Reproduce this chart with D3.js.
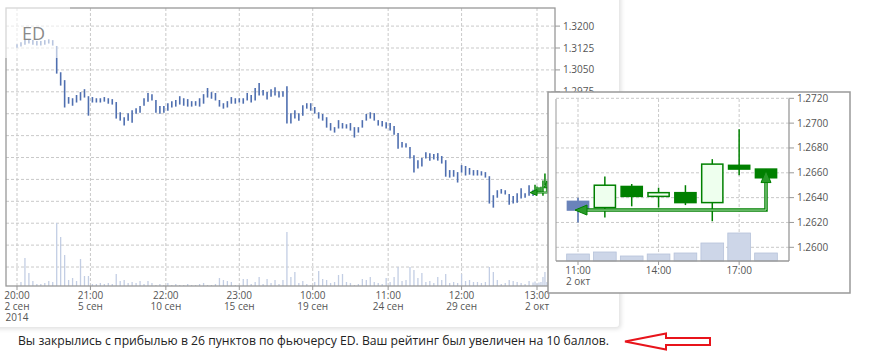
<!DOCTYPE html>
<html lang="ru">
<head>
<meta charset="UTF-8">
<title>ED</title>
<script src="https://cdn.jsdelivr.net/npm/d3@7/dist/d3.min.js"></script>
<style>
  body { margin: 0; background: #fff; }
  text { font-family: "Open Sans", sans-serif; }
</style>
</head>
<body>
<svg id="main" width="871" height="355"></svg>
<script>
// main series, one bar = 2 hours (high / low)
const hi = [1.3138,1.3145,1.3152,1.3155,1.3152,1.3149,1.3149,1.3152,1.3155,1.3152,
  1.3132,1.3042,1.3015,1.2957,1.2953,1.2964,1.2974,1.2984,1.2960,1.2957,
  1.2953,1.2953,1.2957,1.2953,1.2950,1.2940,1.2905,1.2888,1.2902,1.2912,
  1.2919,1.2926,1.2953,1.2971,1.2967,1.2947,1.2926,1.2926,1.2936,1.2943,
  1.2947,1.2960,1.2953,1.2950,1.2943,1.2943,1.2953,1.2967,1.2988,1.2974,
  1.2971,1.2947,1.2936,1.2943,1.2957,1.2953,1.2953,1.2953,1.2971,1.2964,
  1.2988,1.3005,1.2981,1.2974,1.2984,1.2991,1.2977,1.2977,1.2994,1.2902,
  1.2912,1.2902,1.2929,1.2936,1.2936,1.2923,1.2905,1.2899,1.2888,1.2868,
  1.2854,1.2878,1.2868,1.2864,1.2868,1.2854,1.2854,1.2878,1.2899,1.2905,
  1.2902,1.2878,1.2875,1.2871,1.2868,1.2858,1.2834,1.2803,1.2799,1.2786,
  1.2758,1.2741,1.2748,1.2768,1.2765,1.2762,1.2765,1.2755,1.2741,1.2707,
  1.2707,1.2700,1.2724,1.2721,1.2714,1.2707,1.2707,1.2703,1.2700,1.2686,
  1.2621,1.2638,1.2642,1.2638,1.2625,1.2618,1.2628,1.2645,1.2628,1.2655];
const lo = [1.3128,1.3132,1.3138,1.3142,1.3138,1.3135,1.3135,1.3138,1.3142,1.3135,
  1.3039,1.2998,1.2923,1.2936,1.2929,1.2940,1.2947,1.2957,1.2895,1.2940,
  1.2940,1.2940,1.2943,1.2936,1.2933,1.2885,1.2878,1.2861,1.2878,1.2871,
  1.2902,1.2905,1.2929,1.2943,1.2947,1.2905,1.2902,1.2905,1.2912,1.2923,
  1.2926,1.2933,1.2929,1.2926,1.2926,1.2929,1.2926,1.2936,1.2957,1.2953,
  1.2947,1.2926,1.2919,1.2923,1.2936,1.2936,1.2940,1.2936,1.2947,1.2940,
  1.2947,1.2964,1.2964,1.2950,1.2960,1.2964,1.2957,1.2960,1.2868,1.2868,
  1.2885,1.2878,1.2895,1.2919,1.2912,1.2902,1.2885,1.2878,1.2854,1.2844,
  1.2837,1.2851,1.2851,1.2851,1.2844,1.2820,1.2837,1.2854,1.2878,1.2885,
  1.2878,1.2861,1.2858,1.2851,1.2844,1.2830,1.2782,1.2786,1.2786,1.2748,
  1.2700,1.2714,1.2721,1.2748,1.2741,1.2745,1.2741,1.2731,1.2686,1.2683,
  1.2686,1.2666,1.2700,1.2690,1.2693,1.2690,1.2690,1.2690,1.2683,1.2594,
  1.2580,1.2614,1.2628,1.2625,1.2590,1.2594,1.2597,1.2611,1.2614,1.2621];
const vol = [0,80,560,260,100,40,40,60,100,80,
  1260,980,620,120,160,100,540,200,200,40,
  40,60,40,60,40,240,100,120,60,80,
  60,100,40,100,60,20,40,20,60,20,
  40,20,20,40,20,20,40,60,20,20,
  40,160,120,100,80,20,20,140,140,40,
  80,180,40,140,60,120,40,120,1080,180,
  280,60,100,40,20,80,300,140,120,60,
  80,220,240,80,60,20,40,140,120,180,
  80,60,40,160,80,180,380,100,120,380,
  320,160,260,80,100,60,180,120,240,60,
  80,60,240,100,120,80,80,60,80,380,
  280,120,40,60,120,100,80,60,40,100];

const xTicks = [0, 37, 75, 112, 149, 187, 224, 262];
const xTime = ["20:00", "21:00", "22:00", "23:00", "10:00", "11:00", "12:00", "13:00"];
const xDate = ["2 сен", "5 сен", "10 сен", "15 сен", "19 сен", "24 сен", "29 сен", "2 окт"];
const priceTicks = [1.3200, 1.3125, 1.3050, 1.2975, 1.2900, 1.2825, 1.2750, 1.2675, 1.2600, 1.2525, 1.2450, 1.2375];

// hourly candles, 2 окт 11:00 - 18:00
const cOpen  = [1.2637, 1.2632, 1.2649, 1.2641, 1.2644, 1.2636, 1.2666, 1.2663];
const cHigh  = [1.2640, 1.2657, 1.2651, 1.2648, 1.2650, 1.2671, 1.2695, 1.2663];
const cLow   = [1.2620, 1.2624, 1.2633, 1.2632, 1.2634, 1.2621, 1.2658, 1.2656];
const cClose = [1.2630, 1.2650, 1.2641, 1.2644, 1.2636, 1.2667, 1.2663, 1.2656];
const cVol   = [70, 90, 50, 70, 80, 180, 280, 80];
const inTicks = [1.2600, 1.2620, 1.2640, 1.2660, 1.2680, 1.2700, 1.2720];
const inHourTicks = [0, 3, 6];
const inHourLabels = ["11:00", "14:00", "17:00"];
const entryPrice = 1.2630, exitPrice = 1.2656;

const caption = "Вы закрылись с прибылью в 26 пунктов по фьючерсу ED. Ваш рейтинг был увеличен на 10 баллов.";

const svg = d3.select("#main");
const blue = "#4f6fb0", green = "#008000", grid = "#c9c9c9", axisCol = "#999", lab = "#555";

// card
const defs = svg.append("defs");
const f = defs.append("filter").attr("id", "sh").attr("x", "-5%").attr("y", "-5%").attr("width", "115%").attr("height", "115%");
f.append("feDropShadow").attr("dx", 2).attr("dy", 2).attr("stdDeviation", 2).attr("flood-color", "#000").attr("flood-opacity", 0.12);
svg.append("rect").attr("x", -10).attr("y", -10).attr("width", 629).attr("height", 337).attr("rx", 4)
  .attr("fill", "#fff").attr("filter", "url(#sh)");

// main chart
const L = 6, R = 555, T = 8, B = 286;
const x = d3.scaleLinear().domain([0, 262]).range([17, 537]);
const y = d3.scaleLinear().domain([1.2310, 1.3262]).range([B, T]);
const yv = d3.scaleLinear().domain([0, 1300]).range([B, B - 65]);

const g = svg.append("g");
g.selectAll(".hg").data(priceTicks).join("line")
  .attr("x1", L).attr("x2", R).attr("y1", d => y(d)).attr("y2", d => y(d))
  .attr("stroke", grid).attr("stroke-dasharray", "3,2");
g.selectAll(".vg").data(xTicks).join("line")
  .attr("x1", d => x(d)).attr("x2", d => x(d)).attr("y1", T).attr("y2", B)
  .attr("stroke", grid).attr("stroke-dasharray", "3,2");

// volume
g.selectAll(".vol").data(vol).join("line")
  .attr("x1", (d, i) => x(i * 2)).attr("x2", (d, i) => x(i * 2))
  .attr("y1", B).attr("y2", d => yv(d))
  .attr("stroke", "#c3cee4").attr("stroke-width", 1.3);
g.selectAll(".cvol").data(cVol).join("line")
  .attr("x1", (d, i) => x(260 + i)).attr("x2", (d, i) => x(260 + i))
  .attr("y1", B).attr("y2", d => yv(d))
  .attr("stroke", "#c3cee4").attr("stroke-width", 1.3);

// price bars
g.selectAll(".bar").data(hi).join("line")
  .attr("x1", (d, i) => x(i * 2)).attr("x2", (d, i) => x(i * 2))
  .attr("y1", d => y(d)).attr("y2", (d, i) => y(lo[i]) + 0.5)
  .attr("stroke", blue).attr("stroke-width", 1.6);
g.selectAll(".cbar").data(cHigh).join("line")
  .attr("x1", (d, i) => x(260 + i)).attr("x2", (d, i) => x(260 + i))
  .attr("y1", d => y(d)).attr("y2", (d, i) => y(cLow[i]) + 0.5)
  .attr("stroke", (d, i) => i === 0 ? blue : green).attr("stroke-width", 1.5);

// trade arrow
function tradeArrow(sel, xs, ys, x0, x1, p0, p1, head, hw, w) {
  const ya = ys(p0), yb = ys(p1);
  const path = `M${xs(x0)},${ya}H${xs(x1)}V${yb}`;
  sel.append("path").attr("d", path).attr("fill", "none").attr("stroke", green).attr("stroke-width", w);
  sel.append("path").attr("d", path).attr("fill", "none").attr("stroke", "#b8e4b8").attr("stroke-width", w / 3.5);
  const lt = xs(x0) - 3;
  sel.append("path").attr("d", `M${lt},${ya}l${head},${-hw}v${hw * 2}z`)
    .attr("fill", "#2a9a2a").attr("stroke", green);
  const ut = yb - head * 0.6;
  sel.append("path").attr("d", `M${xs(x1)},${ut}l${-hw},${head}h${hw * 2}z`)
    .attr("fill", "#2a9a2a").attr("stroke", green);
}
tradeArrow(g, x, y, 260, 267, entryPrice, exitPrice, 7, 3, 2);

// borders
g.append("rect").attr("x", L).attr("y", T).attr("width", R - L).attr("height", B - T)
  .attr("fill", "none").attr("stroke", axisCol).attr("stroke-width", 1.3);
g.selectAll(".xt").data(xTicks).join("line")
  .attr("x1", d => x(d)).attr("x2", d => x(d)).attr("y1", B).attr("y2", B + 4).attr("stroke", axisCol);
g.selectAll(".yt").data(priceTicks).join("line")
  .attr("x1", R).attr("x2", R + 5).attr("y1", d => y(d)).attr("y2", d => y(d)).attr("stroke", axisCol);

g.selectAll(".yl").data(priceTicks).join("text")
  .attr("x", R + 8).attr("y", d => y(d) + 3.5).attr("font-size", 10).attr("fill", lab)
  .text(d => d.toFixed(4));
g.selectAll(".xl1").data(xTicks).join("text")
  .attr("x", d => x(d)).attr("y", 299).attr("text-anchor", "middle").attr("font-size", 10).attr("fill", lab)
  .text((d, i) => xTime[i]);
g.selectAll(".xl2").data(xTicks).join("text")
  .attr("x", d => x(d)).attr("y", 310).attr("text-anchor", "middle").attr("font-size", 10).attr("fill", lab)
  .text((d, i) => xDate[i]);
g.append("text").attr("x", x(0)).attr("y", 321).attr("text-anchor", "middle")
  .attr("font-size", 10).attr("fill", lab).text("2014");

// faded label box
g.append("rect").attr("x", 0).attr("y", 0).attr("width", 70).attr("height", 58)
  .attr("fill", "#fff").attr("opacity", 0.6);
g.append("text").attr("x", 22).attr("y", 40).attr("font-size", 18).attr("fill", "#8a8a8a").text("ED");

// inset
const ins = svg.append("g");
ins.append("rect").attr("x", 548).attr("y", 92).attr("width", 302).attr("height", 201)
  .attr("fill", "#fff").attr("stroke", axisCol).attr("stroke-width", 1.5);
const iL = 556, iR = 789, iT = 99, iB = 261;
const xi = d3.scaleLinear().domain([0, 7]).range([578, 766]);
const yi = d3.scaleLinear().domain([1.2600, 1.2720]).range([247.3, 98.3]);
const yiv = d3.scaleLinear().domain([0, 300]).range([iB, iB - 30]);
const bw = (xi(1) - xi(0)) * 0.845;

ins.selectAll(".ihg").data(inTicks).join("line")
  .attr("x1", iL).attr("x2", iR).attr("y1", d => yi(d)).attr("y2", d => yi(d))
  .attr("stroke", grid).attr("stroke-dasharray", "3,2");
ins.selectAll(".ivg").data(inHourTicks).join("line")
  .attr("x1", d => xi(d)).attr("x2", d => xi(d)).attr("y1", iT).attr("y2", iB)
  .attr("stroke", grid).attr("stroke-dasharray", "3,2");

ins.selectAll(".ivol").data(cVol).join("rect")
  .attr("x", (d, i) => xi(i) - bw / 2).attr("width", bw)
  .attr("y", d => yiv(d)).attr("height", d => iB - yiv(d))
  .attr("fill", "#cdd6e8").attr("stroke", "#b6c2da").attr("stroke-width", 0.8);

const candles = cOpen.map((o, i) => ({ i, o, h: cHigh[i], l: cLow[i], c: cClose[i] }));
const cg = ins.selectAll(".cdl").data(candles).join("g");
cg.append("line")
  .attr("x1", d => xi(d.i)).attr("x2", d => xi(d.i)).attr("y1", d => yi(d.h)).attr("y2", d => yi(d.l))
  .attr("stroke", d => d.i === 0 ? blue : green).attr("stroke-width", 1.5);
cg.append("rect")
  .attr("x", d => xi(d.i) - bw / 2 + 0.75).attr("width", bw - 1.5)
  .attr("y", d => yi(Math.max(d.o, d.c))).attr("height", d => Math.max(2, yi(Math.min(d.o, d.c)) - yi(Math.max(d.o, d.c))))
  .attr("fill", d => d.i === 0 ? "#6a83ba" : (d.c > d.o ? "#eeffee" : green))
  .attr("stroke", d => d.i === 0 ? "#6a83ba" : green).attr("stroke-width", 1.5);

tradeArrow(ins, xi, yi, 0, 7, entryPrice, exitPrice, 12, 5, 3.5);

ins.append("line").attr("x1", iL).attr("x2", iL).attr("y1", iT).attr("y2", iB).attr("stroke", axisCol);
ins.append("line").attr("x1", iR).attr("x2", iR).attr("y1", iT).attr("y2", iB).attr("stroke", axisCol).attr("stroke-width", 1.3);
ins.append("line").attr("x1", iL).attr("x2", iR).attr("y1", iB).attr("y2", iB).attr("stroke", axisCol).attr("stroke-width", 1.3);
ins.selectAll(".iyt").data(inTicks).join("line")
  .attr("x1", iR).attr("x2", iR + 5).attr("y1", d => yi(d)).attr("y2", d => yi(d)).attr("stroke", axisCol);
ins.selectAll(".iyl").data(inTicks).join("text")
  .attr("x", iR + 8).attr("y", d => yi(d) + 3.5).attr("font-size", 10).attr("fill", lab)
  .text(d => d.toFixed(4));
ins.selectAll(".ixt").data(inHourTicks).join("line")
  .attr("x1", d => xi(d)).attr("x2", d => xi(d)).attr("y1", iB).attr("y2", iB + 4).attr("stroke", axisCol);
ins.selectAll(".ixl").data(inHourTicks).join("text")
  .attr("x", d => xi(d)).attr("y", 274).attr("text-anchor", "middle").attr("font-size", 10).attr("fill", lab)
  .text((d, i) => inHourLabels[i]);
ins.append("text").attr("x", xi(0)).attr("y", 285).attr("text-anchor", "middle")
  .attr("font-size", 10).attr("fill", lab).text("2 окт");

// caption and red arrow
svg.append("text").attr("x", 18).attr("y", 345).attr("font-size", 12).attr("fill", "#222")
  .attr("textLength", 591).attr("lengthAdjust", "spacingAndGlyphs").text(caption);
svg.append("path").attr("d", "M625,341.5L666,333.5V338H710V345H666V349.5Z")
  .attr("fill", "#fff").attr("stroke", "#e8141b").attr("stroke-width", 2);
</script>
</body>
</html>
